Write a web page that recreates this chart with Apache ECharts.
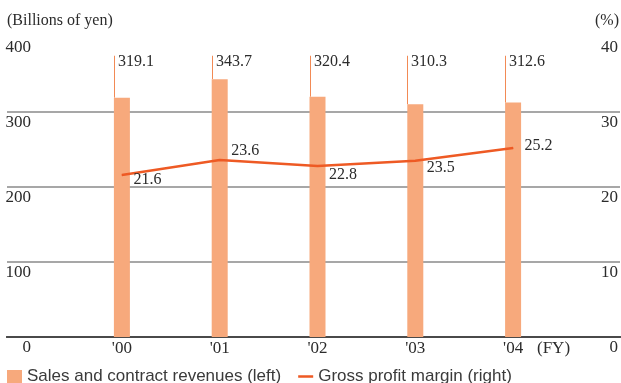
<!DOCTYPE html>
<html>
<head>
<meta charset="utf-8">
<script src="https://cdn.jsdelivr.net/npm/echarts@6/dist/echarts.min.js"></script>
<style>
  html, body { margin: 0; padding: 0; background: #fff; }
  #chart { width: 621px; height: 383px; }
</style>
</head>
<body>
<div id="chart"></div>
<script>
const years = ["'00", "'01", "'02", "'03", "'04"]
const revenues = [319.1, 343.7, 320.4, 310.3, 312.6]
const margins = [21.6, 23.6, 22.8, 23.5, 25.2]
const leftAxis = { max: 400, step: 100 }
const rightAxis = { max: 40, step: 10 }

// where each margin label sits against its point (px)
const marginLabelShift = [5, -9, 9, 7, -2]
const leaderTop = 375

const serif = '"Liberation Serif", "DejaVu Serif", serif'
const ink = '#2b2b2b'
const barColor = '#F7A97C'
const lineColor = '#EE5A24'
// thin dash for the legend, padded so the icon box keeps its height
const dashIcon = 'path://M0,0h0.01v0.01h-0.01z M0,5.2h15v2.6h-15z M0,12.99h0.01v0.01h-0.01z'

const myChart = echarts.init(document.getElementById('chart'))

const option = {
  animation: false,
  grid: [
    { left: 7, right: 1, top: 37, bottom: 46 },
    { left: 73, right: 59, top: 37, bottom: 46 }
  ],
  xAxis: [
    {
      gridIndex: 0, type: 'value', position: 'bottom', min: 0, max: 1,
      axisLine: { show: true, lineStyle: { color: '#333', width: 2 } },
      axisTick: { show: false }, axisLabel: { show: false }, splitLine: { show: false }
    },
    {
      gridIndex: 0, type: 'value', position: 'top', min: 0, max: 1,
      axisLine: { show: true, lineStyle: { color: '#4a4a4a', width: 2 } },
      axisTick: { show: false }, axisLabel: { show: false }, splitLine: { show: false }
    },
    {
      gridIndex: 1, type: 'category', data: years,
      axisLine: { show: false }, axisTick: { show: false },
      axisLabel: { margin: 3, color: ink, fontFamily: serif, fontSize: 17 }
    }
  ],
  yAxis: [
    {
      gridIndex: 0, type: 'value', min: 0, max: leftAxis.max, interval: leftAxis.step,
      axisLine: { show: false }, axisTick: { show: false },
      axisLabel: {
        inside: true, align: 'right', margin: 24, verticalAlign: 'top', lineHeight: 21,
        color: ink, fontFamily: serif, fontSize: 17
      },
      splitLine: {
        show: true, showMinLine: false, showMaxLine: false,
        lineStyle: { color: '#8a8a8a', width: 1.5 }
      }
    },
    {
      gridIndex: 0, type: 'value', position: 'right', min: 0, max: rightAxis.max, interval: rightAxis.step,
      axisLine: { show: false }, axisTick: { show: false },
      axisLabel: {
        inside: true, margin: 2, verticalAlign: 'top', lineHeight: 21,
        color: ink, fontFamily: serif, fontSize: 17
      },
      splitLine: { show: false }
    },
    { gridIndex: 1, type: 'value', min: 0, max: leftAxis.max, show: false },
    { gridIndex: 1, type: 'value', min: 0, max: rightAxis.max, show: false }
  ],
  legend: {
    left: 7, top: 368, padding: 0,
    itemWidth: 15, itemHeight: 13, itemGap: 17,
    textStyle: { color: '#3a3a3a', fontFamily: '"Liberation Sans", Arial, sans-serif', fontSize: 17 },
    data: [
      { name: 'Sales and contract revenues (left)', icon: 'rect' },
      { name: 'Gross profit margin (right)', icon: dashIcon }
    ]
  },
  graphic: [
    {
      type: 'text', left: 7, top: 13,
      style: { text: '(Billions of yen)', fill: ink, font: '16px ' + serif }
    },
    {
      type: 'text', right: 2, top: 13,
      style: { text: '(%)', fill: ink, font: '16px ' + serif }
    },
    {
      type: 'text', left: 537, top: 340,
      style: { text: '(FY)', fill: ink, font: '17px ' + serif }
    }
  ],
  series: [
    {
      name: 'Sales and contract revenues (left)',
      type: 'bar', xAxisIndex: 2, yAxisIndex: 2,
      data: revenues, barWidth: 16,
      itemStyle: { color: barColor }
    },
    {
      type: 'custom', xAxisIndex: 2, yAxisIndex: 2, silent: true,
      data: revenues.map((v, i) => [i, v]),
      renderItem: (params, api) => {
        const i = api.value(0)
        const v = api.value(1)
        const base = api.coord([i, v])
        const top = api.coord([i, leaderTop])
        const x = Math.round(base[0] - 8) + 0.5
        return {
          type: 'group',
          children: [
            {
              type: 'line',
              shape: { x1: x, y1: base[1], x2: x, y2: top[1] },
              style: { stroke: '#F28A55', lineWidth: 1 }
            },
            {
              type: 'text', x: x + 3.5, y: top[1] - 2,
              style: { text: v.toFixed(1), fill: ink, font: '16px ' + serif, verticalAlign: 'top' }
            }
          ]
        }
      }
    },
    {
      name: 'Gross profit margin (right)',
      type: 'line', xAxisIndex: 2, yAxisIndex: 3,
      symbol: 'circle', symbolSize: 1, showSymbol: true, z: 5,
      lineStyle: { color: lineColor, width: 2.5 },
      itemStyle: { color: lineColor },
      data: margins.map((v, i) => ({
        value: v,
        label: {
          show: true, position: 'right', distance: 11,
          offset: [0, marginLabelShift[i]],
          color: ink, fontFamily: serif, fontSize: 16,
          formatter: (p) => p.value.toFixed(1)
        }
      }))
    }
  ]
}

myChart.setOption(option)
</script>
</body>
</html>
